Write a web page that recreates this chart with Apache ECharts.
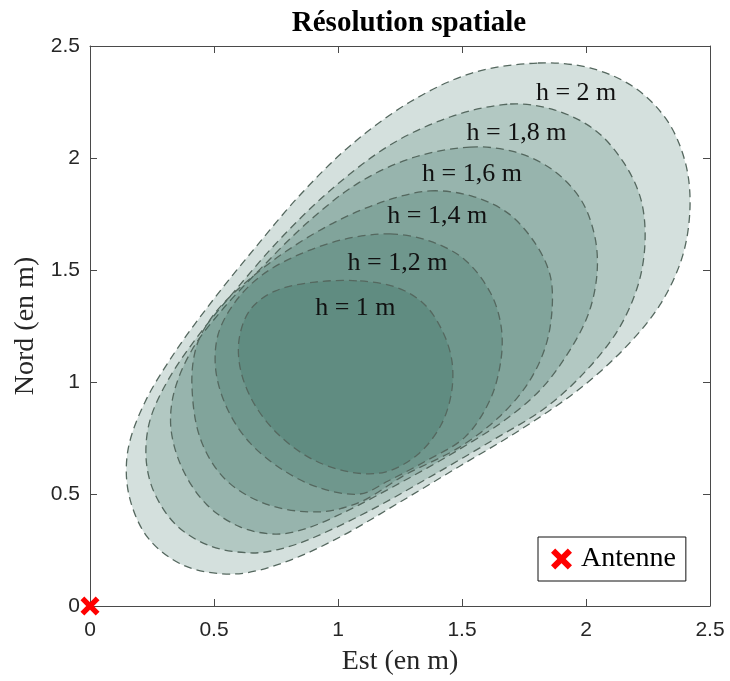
<!DOCTYPE html>
<html lang="fr">
<head>
    <meta charset="UTF-8">
    <title>Résolution spatiale</title>
    <script src="https://cdn.jsdelivr.net/npm/echarts@6/dist/echarts.min.js"></script>
    <style>
        html, body { margin: 0; padding: 0; background: #fff; }
    </style>
</head>
<body>
    <div id="chart" style="width: 730px; height: 681px;"></div>
    <script>
        // contours des zones (Est, Nord) en m
        const zone20 = [[1.806, 2.424], [2.016, 2.402], [2.198, 2.313], [2.331, 2.161], [2.403, 1.969], [2.419, 1.768], [2.387, 1.554], [2.298, 1.344], [2.157, 1.152], [1.968, 0.964], [1.734, 0.786], [1.492, 0.625], [1.250, 0.464], [1.008, 0.308], [0.786, 0.196], [0.585, 0.143], [0.383, 0.179], [0.234, 0.304], [0.157, 0.496], [0.153, 0.696], [0.222, 0.911], [0.343, 1.134], [0.496, 1.366], [0.665, 1.598], [0.847, 1.835], [1.048, 2.054], [1.290, 2.250], [1.540, 2.379]];
        const zone18 = [[1.694, 2.241], [1.875, 2.214], [2.036, 2.125], [2.153, 1.978], [2.222, 1.813], [2.238, 1.625], [2.210, 1.433], [2.129, 1.232], [1.996, 1.045], [1.835, 0.884], [1.625, 0.741], [1.391, 0.589], [1.149, 0.438], [0.907, 0.308], [0.766, 0.254], [0.645, 0.237], [0.484, 0.268], [0.347, 0.362], [0.258, 0.509], [0.226, 0.661], [0.242, 0.830], [0.315, 1.009], [0.435, 1.205], [0.597, 1.424], [0.778, 1.652], [0.980, 1.866], [1.210, 2.058], [1.452, 2.183]];
        const zone16 = [[1.532, 2.049], [1.714, 2.027], [1.867, 1.946], [1.980, 1.813], [2.036, 1.647], [2.044, 1.478], [2.008, 1.299], [1.923, 1.121], [1.815, 0.964], [1.673, 0.830], [1.472, 0.688], [1.250, 0.549], [1.028, 0.420], [0.867, 0.344], [0.746, 0.321], [0.605, 0.353], [0.472, 0.451], [0.375, 0.607], [0.327, 0.786], [0.339, 0.955], [0.411, 1.143], [0.532, 1.321], [0.694, 1.513], [0.879, 1.714], [1.081, 1.888], [1.298, 2.000]];
        const zone14 = [[1.371, 1.853], [1.540, 1.830], [1.685, 1.754], [1.794, 1.621], [1.855, 1.478], [1.863, 1.321], [1.835, 1.152], [1.762, 0.987], [1.645, 0.839], [1.484, 0.705], [1.270, 0.585], [1.089, 0.464], [0.919, 0.420], [0.710, 0.455], [0.544, 0.567], [0.444, 0.750], [0.411, 0.987], [0.431, 1.165], [0.504, 1.308], [0.625, 1.442], [0.786, 1.580], [0.988, 1.714], [1.190, 1.808]];
        const zone12 = [[1.210, 1.661], [1.371, 1.629], [1.512, 1.545], [1.613, 1.402], [1.657, 1.254], [1.657, 1.098], [1.613, 0.920], [1.512, 0.754], [1.347, 0.643], [1.202, 0.558], [1.089, 0.500], [0.927, 0.527], [0.778, 0.607], [0.645, 0.728], [0.556, 0.875], [0.508, 1.045], [0.516, 1.210], [0.585, 1.357], [0.694, 1.478], [0.847, 1.571], [1.028, 1.638]];
        const zone10 = [[1.089, 1.451], [1.242, 1.420], [1.351, 1.344], [1.423, 1.223], [1.460, 1.089], [1.456, 0.942], [1.411, 0.799], [1.319, 0.674], [1.190, 0.598], [1.048, 0.598], [0.895, 0.656], [0.762, 0.763], [0.665, 0.897], [0.609, 1.045], [0.601, 1.188], [0.645, 1.321], [0.746, 1.406], [0.907, 1.446]];

        const zones = [zone20, zone18, zone16, zone14, zone12, zone10];
        const zoneLabels = ['h = 2 m', 'h = 1,8 m', 'h = 1,6 m', 'h = 1,4 m', 'h = 1,2 m', 'h = 1 m'];
        const labelPos = [[1.96, 2.29], [1.72, 2.11], [1.54, 1.93], [1.40, 1.74], [1.24, 1.53], [1.07, 1.33]];
        const antenne = [[0, 0]];
        const xTicks = [0, 2.5, 0.5];   // min, max, pas
        const yTicks = [0, 2.5, 0.5];

        const serif = '"Liberation Serif", "Times New Roman", serif';
        const sans = '"Liberation Sans", Arial, sans-serif';
        const croix = 'path://M2,0 L5,3 L8,0 L10,2 L7,5 L10,8 L8,10 L5,7 L2,10 L0,8 L3,5 L0,2 Z';

        const chart = echarts.init(document.getElementById('chart'));

        function axisBase(extra, margin) {
            return Object.assign({
                type: 'value',
                axisLine: { show: true, onZero: false, lineStyle: { color: '#4a4a4a', width: 1 } },
                axisTick: { show: true, inside: true, length: 7, lineStyle: { color: '#4a4a4a' } },
                splitLine: { show: false },
                axisLabel: { color: '#262626', fontFamily: sans, fontSize: 21, margin: margin || 11 }
            }, extra);
        }

        chart.setOption({
            animation: false,
            title: {
                text: 'Résolution spatiale',
                left: 404,
                top: 4,
                textAlign: 'center',
                textStyle: { fontFamily: serif, fontWeight: 'bold', fontSize: 29, color: '#000' }
            },
            grid: { left: 90, right: 20, top: 46, bottom: 75 },
            legend: {
                data: ['Antenne'],
                left: 538,
                top: 537,
                padding: [8, 10, 8, 13],
                itemWidth: 21,
                itemHeight: 21,
                itemGap: 0,
                borderColor: '#111',
                borderWidth: 1,
                backgroundColor: '#fff',
                textStyle: { fontFamily: serif, fontSize: 28, color: '#000', padding: [0, 0, 0, 4] }
            },
            xAxis: [
                axisBase({
                    min: xTicks[0], max: xTicks[1], interval: xTicks[2],
                    name: 'Est (en m)', nameLocation: 'middle', nameGap: 42,
                    nameTextStyle: { fontFamily: serif, fontSize: 28, color: '#262626' }
                }, 14),
                axisBase({
                    min: xTicks[0], max: xTicks[1], interval: xTicks[2],
                    position: 'top', axisLabel: { show: false }
                })
            ],
            yAxis: [
                axisBase({
                    min: yTicks[0], max: yTicks[1], interval: yTicks[2],
                    name: 'Nord (en m)', nameLocation: 'middle', nameGap: 50,
                    nameTextStyle: { fontFamily: serif, fontSize: 28, color: '#262626' }
                }, 10),
                axisBase({
                    min: yTicks[0], max: yTicks[1], interval: yTicks[2],
                    position: 'right', axisLabel: { show: false }
                })
            ],
            series: [
                {
                    type: 'custom',
                    name: 'zones',
                    coordinateSystem: 'cartesian2d',
                    data: zones.map((z, i) => [i]),
                    encode: { x: -1, y: -1 },
                    renderItem: function (params, api) {
                        const pts = zones[params.dataIndex].map(p => api.coord(p));
                        return {
                            type: 'polygon',
                            shape: { points: pts, smooth: 0.33 },
                            style: {
                                fill: 'rgba(42, 98, 84, 0.2)',
                                stroke: '#55685f',
                                lineWidth: 1.3,
                                lineDash: [8, 5]
                            }
                        };
                    },
                    z: 2
                },
                {
                    type: 'custom',
                    name: 'etiquettes',
                    coordinateSystem: 'cartesian2d',
                    data: labelPos.map((p, i) => [p[0], p[1], i]),
                    renderItem: function (params, api) {
                        const c = api.coord([api.value(0), api.value(1)]);
                        return {
                            type: 'text',
                            x: c[0],
                            y: c[1],
                            style: {
                                text: zoneLabels[api.value(2)],
                                font: '26px ' + serif,
                                fill: '#111',
                                align: 'center',
                                verticalAlign: 'middle'
                            }
                        };
                    },
                    z: 3
                },
                {
                    type: 'scatter',
                    name: 'Antenne',
                    data: antenne,
                    symbol: croix,
                    symbolSize: 19,
                    itemStyle: { color: '#ff0000', opacity: 1 },
                    clip: false,
                    z: 5
                }
            ]
        });
    </script>
</body>
</html>
